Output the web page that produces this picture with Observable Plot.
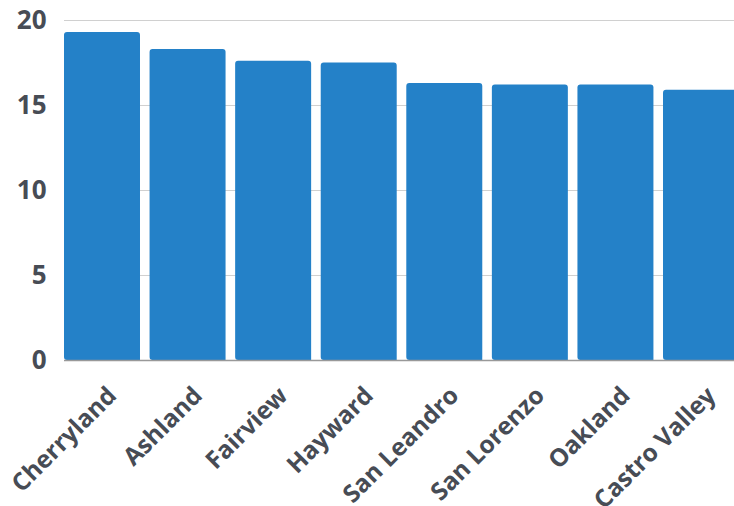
<!DOCTYPE html>
<html>
<head>
<meta charset="utf-8">
<script src="https://cdn.jsdelivr.net/npm/d3@7"></script>
<script src="https://cdn.jsdelivr.net/npm/@observablehq/plot@0.6"></script>
<style>
  html, body { margin: 0; padding: 0; background: #fff; overflow: hidden; }
  #chart { width: 734px; height: 506px; overflow: hidden; }
  svg { display: block; }
</style>
</head>
<body>
<div id="chart"></div>
<script>
const places = ["Cherryland", "Ashland", "Fairview", "Hayward", "San Leandro", "San Lorenzo", "Oakland", "Castro Valley"];
const values = [19.3, 18.3, 17.6, 17.5, 16.3, 16.2, 16.2, 15.9];
const yTicks = [0, 5, 10, 15, 20];

const data = places.map((p, i) => ({place: p, value: values[i]}));
const textColor = "#474c55";

const chart = Plot.plot({
  width: 740,
  height: 506,
  marginLeft: 64,
  marginRight: 1,
  marginTop: 20,
  marginBottom: 146,
  style: {fontFamily: "'Open Sans', sans-serif", background: "#fff", overflow: "hidden", maxWidth: "none"},
  x: {domain: places, paddingInner: 0.112, paddingOuter: 0, round: false, label: null},
  y: {domain: [0, 20], label: null},
  marks: [
    Plot.gridY(yTicks, {stroke: "#d0d0d0", strokeOpacity: 1}),
    Plot.barY(data, {x: "place", y: "value", fill: "#2481c8", ry1: 3, rx1: 3}),
    Plot.ruleY([0], {stroke: "#999999", strokeWidth: 1.5}),
    Plot.axisY(yTicks, {tickSize: 0, tickPadding: 18, fontSize: 26, fontWeight: 700, fill: textColor, label: null}),
    Plot.axisX({tickSize: 0, tickPadding: 16, tickRotate: -45, fontSize: 24.5, fontWeight: 700, fill: textColor, label: null, dx: 10, dy: 15})
  ]
});
document.getElementById("chart").appendChild(chart);
</script>
</body>
</html>
